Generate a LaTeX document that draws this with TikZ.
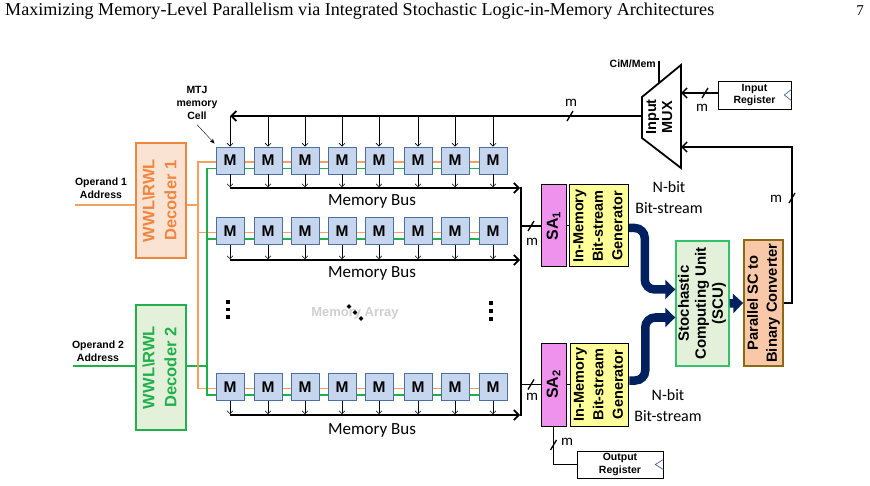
\documentclass[tikz,border=0pt]{standalone}
\usepackage{fontspec}
\newfontfamily\arialf{Liberation Sans}
\newfontfamily\calf{Carlito}
\newfontfamily\hdrf{Liberation Serif}
\usetikzlibrary{arrows.meta}
\definecolor{cellfill}{HTML}{C5D6EE}
\definecolor{cellbd}{HTML}{4A6FA0}
\definecolor{orw}{HTML}{F4A15D}
\definecolor{grw}{HTML}{1DB14B}
\definecolor{dec1fill}{HTML}{FBE3D3}
\definecolor{dec1bd}{HTML}{EE8640}
\definecolor{dec2fill}{HTML}{E3F0DA}
\definecolor{dec2bd}{HTML}{22B04D}
\definecolor{safill}{HTML}{EF92EE}
\definecolor{genfill}{HTML}{FFFF99}
\definecolor{scufill}{HTML}{E3F0DA}
\definecolor{scubd}{HTML}{33C26A}
\definecolor{convfill}{HTML}{F8C8A8}
\definecolor{convbd}{HTML}{8C6A10}
\definecolor{navy}{HTML}{002060}
\definecolor{regtri}{HTML}{2F4F8F}
\definecolor{arraygray}{HTML}{D0D0D0}
\newcommand\mslash[2]{\draw[line width=1.3pt] (#1-3,#2+5) -- (#1+3,#2-5);}
\newcommand\vtab[1]{\rotatebox{90}{\begin{tabular}{@{}c@{}}#1\end{tabular}}}
\begin{document}
\begin{tikzpicture}[x=1pt,y=-1pt,
  cell/.style={draw=cellbd, line width=0.8pt, fill=cellfill, minimum width=28pt, minimum height=27pt, inner sep=0pt, font=\arialf\bfseries\fontsize{15.5}{15.5}\selectfont},
  blk/.style={draw, line width=1pt, inner sep=0pt},
  sarrow/.style={-{Straight Barb[length=3pt,width=6pt]}, line width=0.6pt},
  busarrow/.style={line width=1.8pt, -{Straight Barb[length=5pt,width=10pt]}},
  fat/.style={line width=8.5pt, navy, rounded corners=10pt, -{Triangle[length=10pt,width=19pt]}},
  mlab/.style={font=\calf\fontsize{15}{15}\selectfont, inner sep=0pt},
  blab/.style={font=\arialf\bfseries\fontsize{10.5}{12.8}\selectfont, align=center, inner sep=0pt},
  owire/.style={orw, line width=1.6pt},
  gwire/.style={grw, line width=1.6pt},
  bustext/.style={font=\calf\fontsize{17}{17}\selectfont, inner sep=0pt},
  thinline/.style={line width=1.5pt},
  dotsq/.style={fill=black, inner sep=0pt, minimum size=3.6pt}
]
\fill[white] (0,0) rectangle (870,486);
\useasboundingbox (0,0) rectangle (870,486);

% header
\node[anchor=base west, inner sep=0pt] (hdr) at (5,16) {\resizebox{709pt}{!}{\hdrf Maximizing Memory-Level Parallelism via Integrated Stochastic Logic-in-Memory Architectures}};
\node[anchor=base east, inner sep=0pt, font=\hdrf\fontsize{15}{15}\selectfont] (pg) at (864,16) {7};

% decoders
\node[blk, draw=dec1bd, line width=1.6pt, fill=dec1fill, minimum width=50pt, minimum height=115pt,
  font=\arialf\bfseries\fontsize{16.5}{22}\selectfont, text=dec1bd] (dec1) at (161,200.5) {\vtab{WWL\textbackslash RWL\\Decoder 1}};
\node[blk, draw=dec2bd, line width=1.6pt, fill=dec2fill, minimum width=50pt, minimum height=125pt,
  font=\arialf\bfseries\fontsize{16.5}{22}\selectfont, text=dec2bd] (dec2) at (161,367.5) {\vtab{WWL\textbackslash RWL\\Decoder 2}};

\node[blab] (op1) at (101,188) {Operand 1\\Address};
\node[blab] (op2) at (98,351) {Operand 2\\Address};
\coordinate (op1s) at (75,205);
\coordinate (op2s) at (73,366);
\draw[owire] (op1s) -- (op1s -| dec1.west);
\draw[gwire] (op2s) -- (op2s -| dec2.west);

% word-line wires (drawn under the cells)
\coordinate (ovT) at (198,162);
\coordinate (ovB) at (198,388.5);
\coordinate (gvT) at (207,168.5);
\coordinate (gvB) at (207,395);
\draw[owire] (op1s -| dec1.east) -- (op1s -| ovT);
\draw[gwire] (op2s -| dec2.east) -- (op2s -| gvT);
\draw[owire] (508,162) -- (ovT) -- (ovB) -- (508,388.5);
\draw[owire] (198,232.5) -- (508,232.5);
\draw[gwire] (508,168.5) -- (gvT) -- (gvB) -- (508,395);
\draw[gwire] (207,239) -- (508,239);

% memory cells
\foreach \r/\yy in {1/160.5, 2/231, 3/387} {
  \foreach \i/\xx in {1/230,2/268,3/305,4/342,5/379,6/418,7/455,8/493} {
    \node[cell] (c\r\i) at (\xx,\yy) {M};
  }
}

% memory array dots & label
\node[font=\arialf\bfseries\fontsize{13}{13}\selectfont, text=arraygray, inner sep=0pt] (marr) at (355,313) {Memory Array};
\foreach \k/\yy in {a/302,b/309.5,c/317} { \node[dotsq] (dl\k) at (228,\yy) {}; }
\foreach \k/\yy in {a/303,b/311,c/319} { \node[dotsq] (dr\k) at (491,\yy) {}; }
\foreach \k/\xx/\yy in {a/349/306.5,b/355/312.5,c/361/318.5} { \node[dotsq, rotate=45, minimum size=3.4pt] (dd\k) at (\xx,\yy) {}; }

% collector
\coordinate (colT) at (521,187);
\coordinate (colB) at (521,416);
\draw[line width=1.8pt] (colT) -- (colB);

% memory buses
\foreach \r/\by/\ly in {1/188/201, 2/260/273, 3/415/430} {
  \foreach \i in {1,...,8} { \draw[sarrow] (c\r\i.south) -- ([yshift=0.8pt]c\r\i.south |- 0,\by); }
  \draw[busarrow] (c\r1.south |- 0,\by) -- ([xshift=-0.9pt]colT |- 0,\by);
  \node[bustext] (mb\r) at (372,\ly) {Memory Bus};
}

% MTJ label
\node[blab] (mtj) at (197,103) {MTJ\\memory\\Cell};
\draw[-{Stealth[length=5pt,width=4pt]}, line width=0.4pt] ([yshift=-5pt]mtj.south) -- ([xshift=-1pt,yshift=3pt]c11.north west);

% MUX
\draw[line width=1.8pt, fill=white] (642,97) -- (681,65) -- (681,168) -- (642,138) -- cycle;
\node[font=\arialf\bfseries\fontsize{14.5}{16}\selectfont, inner sep=0pt] (mux) at (661,117) {\vtab{Input\\MUX}};
\coordinate (muxL) at (642,116);
\coordinate (muxR1) at (681,93);
\coordinate (muxR2) at (681,147);
\node[font=\arialf\bfseries\fontsize{10.5}{12}\selectfont, anchor=east, inner sep=0pt] (cim) at (656,64) {CiM/Mem};
\coordinate (cimT) at (659,61);
\coordinate (cimB) at (659,83);
\draw[line width=1.2pt] (cimT) -- (cimB);

% top bus into row 1
\draw[busarrow] (muxL) -- (c11.north |- muxL);
\foreach \i in {1,...,8} { \draw[sarrow] (c1\i.north |- muxL) -- (c1\i.north); }
\mslash{570}{116}
\node[mlab] (m1) at (571,103) {m};

% input register
\node[blk, line width=0.6pt, minimum width=73pt, minimum height=28pt, blab] (inreg) at (754.5,95) {Input\\Register};
\draw[regtri, line width=0.6pt] ([yshift=5.5pt]inreg.east) -- ([xshift=-7pt]inreg.east) -- ([yshift=-5.5pt]inreg.east);
\draw[busarrow, line width=1.5pt] (inreg.west |- muxR1) -- (muxR1);
\mslash{705}{93}
\node[mlab] (m2) at (702,108) {m};

% sense amps & generators
\node[blk, fill=safill, minimum width=25pt, minimum height=82pt, font=\arialf\bfseries\fontsize{16}{16}\selectfont] (sa1) at (553.5,226) {\rotatebox{90}{SA\textsubscript{1}}};
\node[blk, fill=safill, minimum width=25pt, minimum height=83pt, font=\arialf\bfseries\fontsize{16}{16}\selectfont] (sa2) at (553.5,384.5) {\rotatebox{90}{SA\textsubscript{2}}};
\node[blk, fill=genfill, minimum width=56pt, minimum height=82pt, font=\arialf\bfseries\fontsize{14.5}{19.5}\selectfont] (gen1) at (599,226) {\vtab{In-Memory\\Bit-stream\\Generator}};
\node[blk, fill=genfill, minimum width=57pt, minimum height=83pt, font=\arialf\bfseries\fontsize{14.5}{19.5}\selectfont] (gen2) at (599.5,384.5) {\vtab{In-Memory\\Bit-stream\\Generator}};
\draw[thinline] (colT |- sa1.west) -- (sa1.west);
\draw[thinline] (colT |- sa2.west) -- (sa2.west);
\draw[line width=1pt] (sa1.east) -- (gen1.west);
\draw[line width=1pt] (sa2.east) -- (gen2.west);
\mslash{531}{226}
\node[mlab] (m3) at (532,242) {m};
\mslash{531}{384.5}
\node[mlab] (m4) at (532,397) {m};

% output register
\node[blk, line width=0.6pt, minimum width=86pt, minimum height=27pt, blab] (outreg) at (620,464.5) {Output\\Register};
\draw[regtri, line width=0.6pt] ([yshift=5pt]outreg.east) -- ([xshift=-8pt]outreg.east) -- ([yshift=-5pt]outreg.east);
\draw[thinline] (sa2.south) |- (outreg.west);
\mslash{553.5}{445}
\node[mlab] (m5) at (567,442) {m};

% SCU & converter
\node[blk, draw=scubd, line width=1.4pt, fill=scufill, minimum width=53pt, minimum height=125pt, font=\arialf\bfseries\fontsize{15}{17}\selectfont] (scu) at (702.5,303.5) {\vtab{Stochastic\\Computing Unit\\(SCU)}};
\node[blk, draw=convbd, line width=1.8pt, fill=convfill, minimum width=39pt, minimum height=126pt, font=\arialf\bfseries\fontsize{14.7}{19}\selectfont] (conv) at (763.5,303) {\vtab{Parallel SC to\\Binary Converter}};

\draw[fat] ([yshift=-2pt]gen1.east) -- ++(16,0) |- ([yshift=14pt]scu.west);
\draw[fat] ([yshift=4pt]gen2.east) -- ++(16,0) |- ([yshift=-14pt]scu.west);
\draw[fat] (scu.east) -- (conv.west);

\node[bustext, align=center, font=\calf\fontsize{16}{21}\selectfont] (nb1) at (669,198) {N-bit\\Bit-stream};
\node[bustext, align=center, font=\calf\fontsize{16}{21}\selectfont] (nb2) at (668,406) {N-bit\\Bit-stream};

% feedback
\coordinate (fbk) at (792,147);
\draw[busarrow, line width=1.5pt] (conv.east) -| (fbk) -- (muxR2);
\mslash{792}{198}
\node[mlab] (m6) at (776,199) {m};
\end{tikzpicture}
\end{document}
